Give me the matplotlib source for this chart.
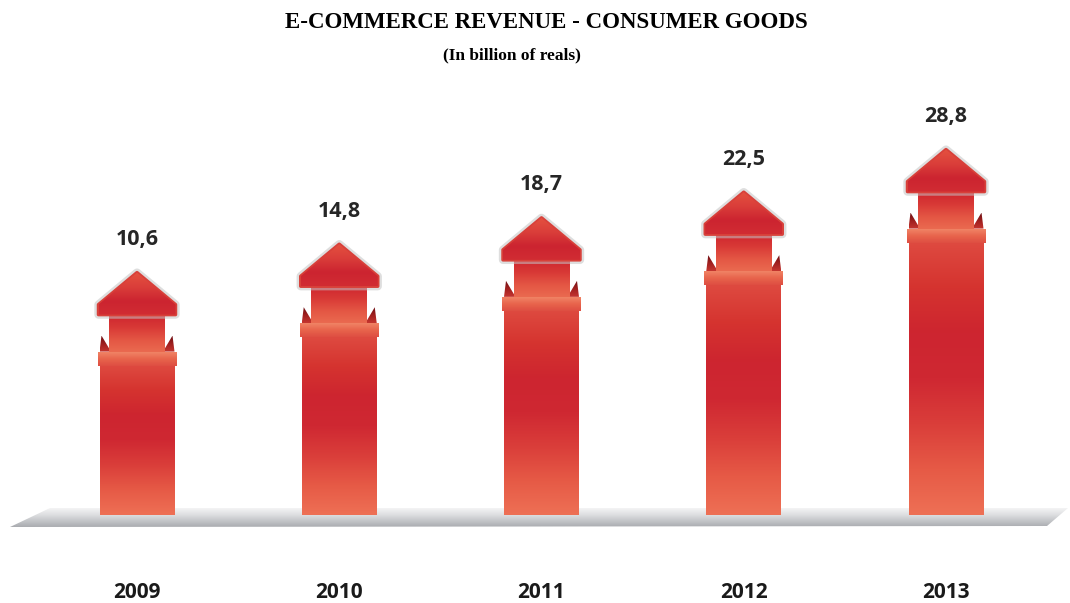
import numpy as np
import matplotlib
matplotlib.use("Agg")
import matplotlib.pyplot as plt
from matplotlib.patches import Polygon, Rectangle
from matplotlib.colors import LinearSegmentedColormap

years = ["2009", "2010", "2011", "2012", "2013"]
revenue = [10.6, 14.8, 18.7, 22.5, 28.8]
value_labels = ["10,6", "14,8", "18,7", "22,5", "28,8"]

TITLE = "E-COMMERCE REVENUE - CONSUMER GOODS"
SUBTITLE = "(In billion of reals)"

# scale of the picture (pixels per unit) and the floor level of the columns
X_PX = 202.25
Y_PX = 6.76
FLOOR = -11.5
W, H = 1070, 603
FLOOR_PX = 515
FIRST_PX = 137


def dx(px):
    return px / X_PX


def dy(px):
    return px / Y_PX


def grad_fill(ax, patch, colors, extent, z):
    cmap = LinearSegmentedColormap.from_list("g", colors)
    grad = np.linspace(0, 1, 256).reshape(-1, 1)
    im = ax.imshow(grad, cmap=cmap, extent=extent, aspect="auto",
                   origin="upper", interpolation="bicubic", zorder=z)
    im.set_clip_path(patch)
    return im


fig = plt.figure(figsize=(W / 100, H / 100), dpi=100)
ax = fig.add_axes([0, 0, 1, 1])
ax.axis("off")
xlim = (-dx(FIRST_PX), dx(W - FIRST_PX))
ylim = (FLOOR - dy(H - FLOOR_PX), FLOOR + dy(FLOOR_PX))

# floor plane
fy = lambda py: FLOOR + dy(FLOOR_PX - py)
fx = lambda px: dx(px - FIRST_PX)
floor = Polygon([(fx(50), fy(508)), (fx(1068), fy(508)), (fx(1047), fy(526)),
                 (fx(10), fy(527))], closed=True, facecolor="none",
                edgecolor="none", zorder=1)
ax.add_patch(floor)
grad_fill(ax, floor, ["#F4F4F5", "#DFE0E2", "#C4C6C9", "#A9ABAF"],
          (fx(10), fx(1068), fy(527), fy(508)), 1)

x = np.arange(len(years))
col_w = dx(75)
heights = [v - FLOOR for v in revenue]
bars = ax.bar(x, heights, width=col_w, bottom=FLOOR, color="none",
              linewidth=0, zorder=3)

col_colors = ["#DE4A40", "#D5332F", "#CD2530", "#CF2832", "#DA3E3A",
              "#E65A46", "#EE7055"]
lip_h, flap_h, shaft_h, head_h = dy(14), dy(16), dy(37), dy(42)
lip_w, shaft_w, head_w = dx(79), dx(56), dx(77)

for xi, v, bar, lab in zip(x, revenue, bars, value_labels):
    grad_fill(ax, bar, col_colors, (xi - col_w / 2, xi + col_w / 2, FLOOR, v), 3)

    # front lip of the box
    lip = Rectangle((xi - lip_w / 2, v), lip_w, lip_h, facecolor="none",
                    edgecolor="none", zorder=4)
    ax.add_patch(lip)
    grad_fill(ax, lip, ["#F08466", "#E8644C", "#DE4E42"],
              (xi - lip_w / 2, xi + lip_w / 2, v, v + lip_h), 4)

    # dark side flaps
    top = v + lip_h
    for s in (-1, 1):
        flap = Polygon([(xi + s * col_w / 2, top),
                        (xi + s * (col_w / 2 - dx(2)), top + flap_h),
                        (xi + s * (shaft_w / 2 - dx(2)), top)],
                       closed=True, facecolor="none", edgecolor="none", zorder=4)
        ax.add_patch(flap)
        grad_fill(ax, flap, ["#6E1014", "#A0201F", "#C53530"],
                  (xi - col_w / 2, xi + col_w / 2, top, top + flap_h), 4)

    # arrow shaft
    shaft = Rectangle((xi - shaft_w / 2, top), shaft_w, shaft_h,
                      facecolor="none", edgecolor="none", zorder=5)
    ax.add_patch(shaft)
    grad_fill(ax, shaft, ["#CF262F", "#D83936", "#E45644", "#EA6A50"],
              (xi - shaft_w / 2, xi + shaft_w / 2, top, top + shaft_h), 5)

    # arrow head with soft grey rim
    base = top + shaft_h
    pts = [(xi - head_w / 2, base), (xi - head_w / 2, base + dy(10)),
           (xi, base + head_h), (xi + head_w / 2, base + dy(10)),
           (xi + head_w / 2, base)]
    rim = Polygon(pts, closed=True, facecolor="#C8C8C8", edgecolor="#C4C4C4",
                  linewidth=6, joinstyle="round", alpha=0.55, zorder=5.5)
    ax.add_patch(rim)
    head = Polygon(pts, closed=True, facecolor="#D3303A", edgecolor="#D8403A",
                   linewidth=2.5, joinstyle="round", zorder=6)
    ax.add_patch(head)
    grad_fill(ax, head, ["#E4503F", "#DA3E3A", "#CC2430", "#D12C33"],
              (xi - head_w / 2, xi + head_w / 2, base, base + head_h), 6.5)

    ax.text(xi, base + head_h + dy(33), lab, ha="center", va="center",
            fontsize=15.5, fontweight="bold", family="Open Sans",
            color="#262626", zorder=7)

for xi, yr in zip(x, years):
    ax.text(xi, fy(592), yr, ha="center", va="center", fontsize=15,
            fontweight="bold", family="Open Sans", color="#1A1A1A")

ax.set_xlim(*xlim)
ax.set_ylim(*ylim)

fig.text(546 / W, 1 - 22 / H, TITLE, ha="center", va="center",
         fontsize=16.5, fontweight="bold", family="Liberation Serif")
fig.text(512 / W, 1 - 55 / H, SUBTITLE, ha="center", va="center",
         fontsize=12.5, fontweight="bold", family="Liberation Serif")

fig.savefig("out.png", dpi=100, facecolor="white")
